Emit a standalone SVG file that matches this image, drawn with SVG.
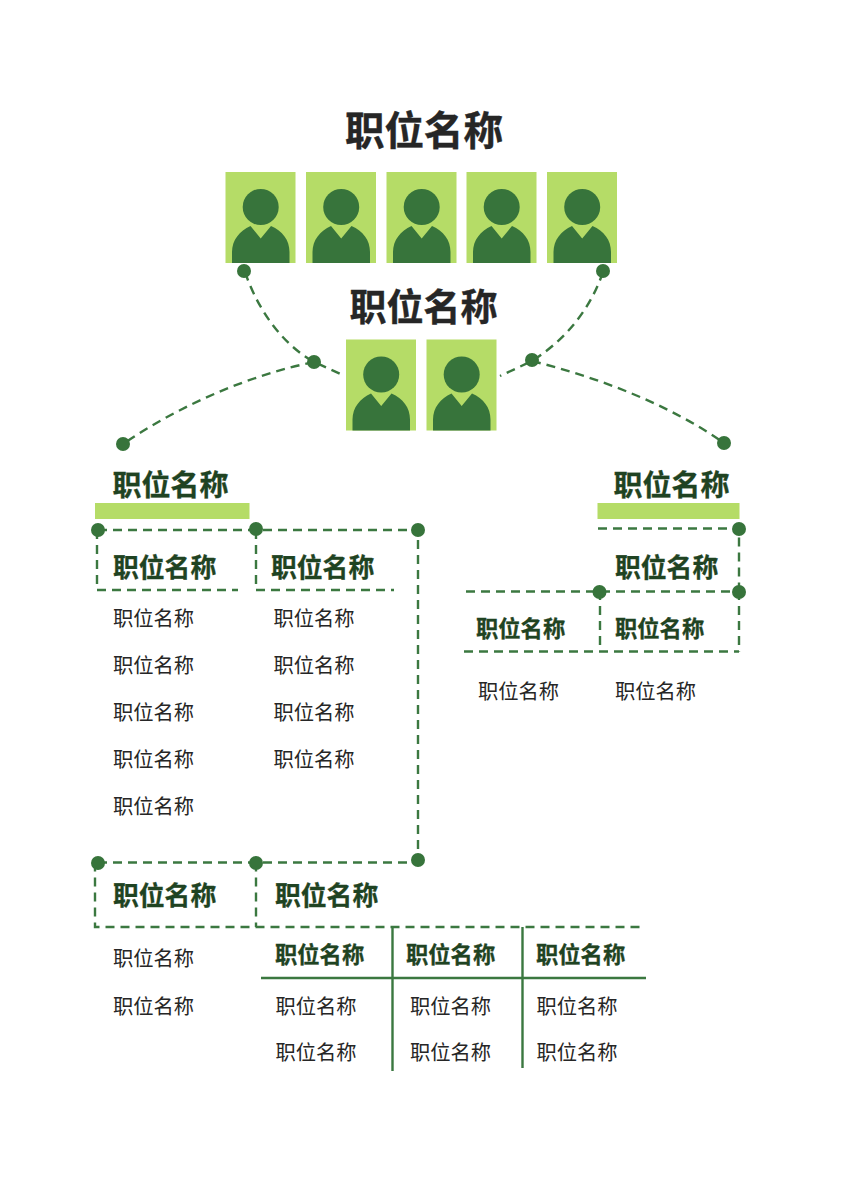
<svg xmlns="http://www.w3.org/2000/svg" xmlns:xlink="http://www.w3.org/1999/xlink" width="848" height="1200" viewBox="0 0 848 1200">
<style>
text{font-family:"Noto Sans CJK SC","Liberation Sans",sans-serif}
.t1{font-size:39.500px;font-weight:700;fill:#262626;text-anchor:middle;stroke:#262626;stroke-width:.4}
.t2{font-size:37px;font-weight:700;fill:#262626;text-anchor:middle;stroke:#262626;stroke-width:.4}
.h1{font-size:29px;font-weight:700;fill:#1f4322;stroke:#1f4322;stroke-width:.3}
.h2{font-size:25.800px;font-weight:700;fill:#1f4322;stroke:#1f4322;stroke-width:.3}
.h3{font-size:22.300px;font-weight:700;fill:#1f4322;stroke:#1f4322;stroke-width:.3}
.b{font-size:20.300px;fill:#262626}
.d{fill:none;stroke:#3b7840;stroke-width:2.400;stroke-dasharray:9 6}
.s{fill:none;stroke:#3b7840;stroke-width:2.400}
.dot{fill:#37743b}
.bar{fill:#b5dc67}
</style>
<defs>
<g id="avatar">
<rect width="70" height="91" fill="#b5dc67"/>
<circle cx="35.200" cy="35" r="18" fill="#37743b"/>
<path d="M6.500 91V80C6.500 68 14 59 25 54L35.200 66.500L45.500 54C57 59 64 68 64 80V91Z" fill="#37743b"/>
</g>
</defs>
<g id="connectors">
<path class="d" d="M245 272C258 310 282 344 314 362L345 376"/>
<path class="d" d="M314 362C250 375 180 405 123 444"/>
<path class="d" d="M603 272C590 310 565 340 532 361L500 376"/>
<path class="d" d="M532 361C600 378 670 405 724 443"/>
<path class="d" d="M98 530H418V860"/>
<path class="d" d="M97 530V590H238"/>
<path class="d" d="M256 530V590H394"/>
<path class="d" d="M598 528.500H739V591"/>
<path class="d" d="M466 591.500H739"/>
<path class="d" d="M739 591V651.500H739"/>
<path class="d" d="M464 651.500H739"/>
<path class="d" d="M600 591V651"/>
<path class="d" d="M98 862.500H418"/>
<path class="d" d="M95 862.500V927H642"/>
<path class="d" d="M256 862.500V927"/>
<path class="s" d="M261 978H646M392.500 927V1071M522.500 927V1068"/>
<circle class="dot" cx="244" cy="271" r="7"/>
<circle class="dot" cx="603" cy="271" r="7"/>
<circle class="dot" cx="314" cy="362" r="7"/>
<circle class="dot" cx="532" cy="360" r="7"/>
<circle class="dot" cx="123" cy="444" r="7"/>
<circle class="dot" cx="724" cy="443" r="7"/>
<circle class="dot" cx="98" cy="530" r="7"/>
<circle class="dot" cx="256" cy="529" r="7"/>
<circle class="dot" cx="418" cy="530" r="7"/>
<circle class="dot" cx="739" cy="529" r="7"/>
<circle class="dot" cx="739" cy="592" r="7"/>
<circle class="dot" cx="599.500" cy="592" r="7"/>
<circle class="dot" cx="98" cy="863" r="7"/>
<circle class="dot" cx="256" cy="863" r="7"/>
<circle class="dot" cx="418" cy="860" r="7"/>
</g>
<g id="node-top">
<text class="t1" x="424" y="145">职位名称</text>
<use xlink:href="#avatar" href="#avatar" x="225.500" y="172"/>
<use xlink:href="#avatar" href="#avatar" x="306" y="172"/>
<use xlink:href="#avatar" href="#avatar" x="386.500" y="172"/>
<use xlink:href="#avatar" href="#avatar" x="466.500" y="172"/>
<use xlink:href="#avatar" href="#avatar" x="547" y="172"/>
</g>
<g id="node-second">
<text class="t2" x="423.500" y="320.500">职位名称</text>
<use xlink:href="#avatar" href="#avatar" x="346" y="339.500"/>
<use xlink:href="#avatar" href="#avatar" x="426.500" y="339.500"/>
</g>
<g id="node-left">
<text class="h1" x="112.500" y="496">职位名称</text>
<rect class="bar" x="95" y="503" width="154.500" height="16"/>
</g>
<g id="node-left-a">
<text class="h2" x="113" y="577">职位名称</text>
<text class="b" x="113" y="626">职位名称</text>
<text class="b" x="113" y="673">职位名称</text>
<text class="b" x="113" y="720">职位名称</text>
<text class="b" x="113" y="767">职位名称</text>
<text class="b" x="113" y="814">职位名称</text>
</g>
<g id="node-left-b">
<text class="h2" x="271" y="577">职位名称</text>
<text class="b" x="273.500" y="626">职位名称</text>
<text class="b" x="273.500" y="673">职位名称</text>
<text class="b" x="273.500" y="720">职位名称</text>
<text class="b" x="273.500" y="767">职位名称</text>
</g>
<g id="node-right">
<text class="h1" x="613.500" y="496">职位名称</text>
<rect class="bar" x="597.500" y="503" width="142" height="16"/>
<text class="h2" x="615" y="577">职位名称</text>
</g>
<g id="node-right-a">
<text class="h3" x="476" y="636.500">职位名称</text>
<text class="b" x="478" y="699">职位名称</text>
</g>
<g id="node-right-b">
<text class="h3" x="615" y="636.500">职位名称</text>
<text class="b" x="615" y="699">职位名称</text>
</g>
<g id="node-bottom-a">
<text class="h2" x="113" y="905">职位名称</text>
<text class="b" x="113" y="966">职位名称</text>
<text class="b" x="113" y="1014">职位名称</text>
</g>
<g id="node-bottom-b">
<text class="h2" x="275" y="905">职位名称</text>
<text class="h3" x="275" y="962.500">职位名称</text>
<text class="h3" x="406" y="962.500">职位名称</text>
<text class="h3" x="536" y="962.500">职位名称</text>
<text class="b" x="275.500" y="1014">职位名称</text>
<text class="b" x="275.500" y="1060">职位名称</text>
<text class="b" x="410" y="1014">职位名称</text>
<text class="b" x="410" y="1060">职位名称</text>
<text class="b" x="536.500" y="1014">职位名称</text>
<text class="b" x="536.500" y="1060">职位名称</text>
</g>
</svg>
